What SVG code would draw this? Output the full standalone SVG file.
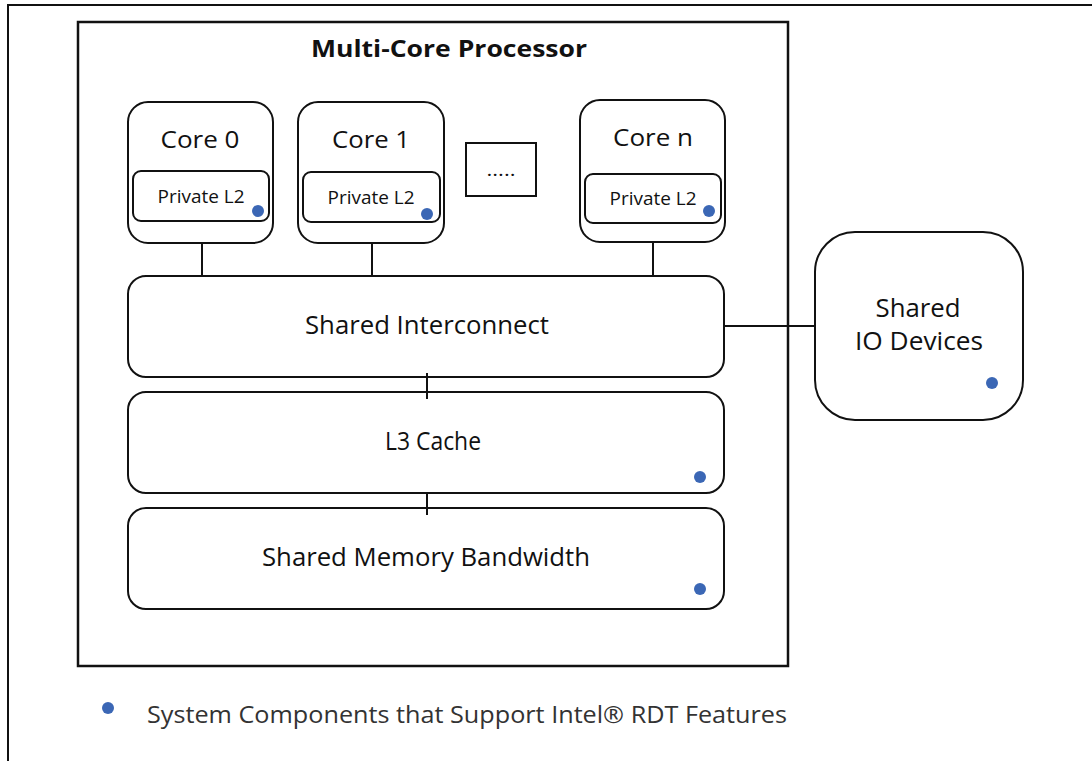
<svg xmlns="http://www.w3.org/2000/svg" width="1092" height="761" viewBox="0 0 1092 761">
<style>
.box{fill:#fff;stroke:#111;stroke-width:2}
.con{stroke:#111;stroke-width:2;fill:none}
.t{font-family:"Open Sans","Noto Sans",sans-serif;fill:#111;text-anchor:middle}
.dot{fill:#3b67b5}
</style>
<rect width="1092" height="761" fill="#fff"/>
<path d="M8 761 V5 H1092" class="con" stroke-width="2.5"/>
<g id="processor">
<rect x="78" y="22" width="710" height="644" fill="#fff" stroke="#111" stroke-width="2.5"/>
<text x="449" y="57" class="t" font-size="24" font-weight="bold" textLength="276" lengthAdjust="spacingAndGlyphs">Multi-Core Processor</text>
</g>
<g id="core0">
<rect x="128" y="102" width="145" height="141" rx="20" class="box"/>
<text x="200" y="148" class="t" font-size="24" textLength="79" lengthAdjust="spacingAndGlyphs">Core 0</text>
<rect x="133" y="171" width="136" height="50" rx="8" class="box"/>
<text x="201" y="203" class="t" font-size="18" textLength="87" lengthAdjust="spacingAndGlyphs">Private L2</text>
<circle cx="258" cy="211" r="6" class="dot"/>
</g>
<g id="core1">
<rect x="298" y="102" width="146" height="141" rx="20" class="box"/>
<text x="371" y="148" class="t" font-size="24" textLength="78" lengthAdjust="spacingAndGlyphs">Core 1</text>
<rect x="303" y="172" width="137" height="50" rx="8" class="box"/>
<text x="371" y="204" class="t" font-size="18" textLength="87" lengthAdjust="spacingAndGlyphs">Private L2</text>
<circle cx="427" cy="214" r="6" class="dot"/>
</g>
<g id="dots">
<rect x="466" y="143" width="70" height="53" fill="#fff" stroke="#111" stroke-width="2"/>
<text x="501" y="176" class="t" font-size="18" textLength="29" lengthAdjust="spacingAndGlyphs">.....</text>
</g>
<g id="coren">
<rect x="580" y="100" width="145" height="142" rx="20" class="box"/>
<text x="653" y="146" class="t" font-size="24" textLength="80" lengthAdjust="spacingAndGlyphs">Core n</text>
<rect x="585" y="174" width="136" height="49" rx="8" class="box"/>
<text x="653" y="205" class="t" font-size="18" textLength="87" lengthAdjust="spacingAndGlyphs">Private L2</text>
<circle cx="709" cy="211" r="6" class="dot"/>
</g>
<g id="interconnect">
<rect x="128" y="276" width="596" height="101" rx="18" class="box"/>
<text x="427" y="334" class="t" font-size="25" textLength="244" lengthAdjust="spacingAndGlyphs">Shared Interconnect</text>
</g>
<g id="l3">
<rect x="128" y="392" width="596" height="101" rx="18" class="box"/>
<text x="433" y="450" class="t" font-size="25" textLength="96" lengthAdjust="spacingAndGlyphs">L3 Cache</text>
<circle cx="700" cy="477" r="6" class="dot"/>
</g>
<g id="membw">
<rect x="128" y="508" width="596" height="101" rx="18" class="box"/>
<text x="426" y="566" class="t" font-size="25" textLength="328" lengthAdjust="spacingAndGlyphs">Shared Memory Bandwidth</text>
<circle cx="700" cy="589" r="6" class="dot"/>
</g>
<g id="io">
<rect x="815" y="232" width="208" height="188" rx="40" class="box"/>
<text x="918" y="317" class="t" font-size="25" textLength="85" lengthAdjust="spacingAndGlyphs">Shared</text>
<text x="919" y="350" class="t" font-size="25" textLength="128" lengthAdjust="spacingAndGlyphs">IO Devices</text>
<circle cx="992" cy="383" r="6" class="dot"/>
</g>
<g id="connectors">
<line x1="202" y1="243" x2="202" y2="276" class="con"/>
<line x1="372" y1="243" x2="372" y2="276" class="con"/>
<line x1="653" y1="242" x2="653" y2="276" class="con"/>
<line x1="427" y1="373" x2="427" y2="399" class="con"/>
<line x1="427" y1="492" x2="427" y2="515" class="con"/>
<line x1="724" y1="326" x2="815" y2="326" class="con"/>
</g>
<g id="legend">
<circle cx="108" cy="708" r="6" class="dot"/>
<text x="147" y="723" font-family="Open Sans,Noto Sans,sans-serif" font-size="24" fill="#333" textLength="640" lengthAdjust="spacingAndGlyphs">System Components that Support Intel® RDT Features</text>
</g>
</svg>
